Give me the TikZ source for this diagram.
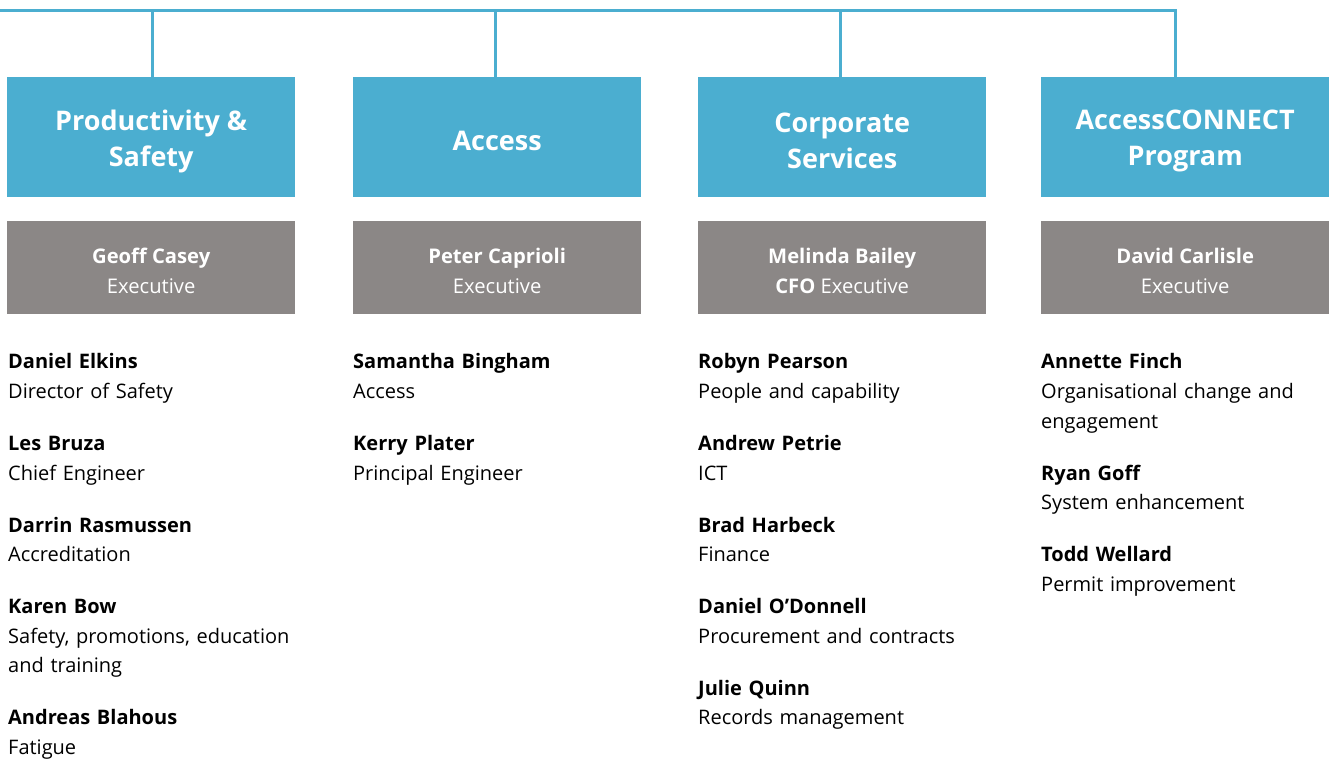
\documentclass[tikz,border=0pt]{standalone}
\usepackage{fontspec}
\setmainfont{Open Sans}
\definecolor{orgblue}{RGB}{75,174,208}
\definecolor{orggray}{RGB}{139,135,134}
\begin{document}
\begin{tikzpicture}[x=1pt,y=-1pt,
  unitbox/.style={fill=orgblue, minimum width=288pt, minimum height=120pt,
    inner sep=0pt, anchor=north west},
  unittext/.style={text=white, inner sep=0pt, align=center,
    font=\fontsize{27}{36}\selectfont\bfseries},
  headbox/.style={fill=orggray, minimum width=288pt, minimum height=93pt,
    inner sep=0pt, anchor=north west},
  headtext/.style={text=white, inner sep=0pt, align=center,
    font=\fontsize{20.2}{30}\selectfont},
  staff/.style={anchor=north west, inner sep=0pt, align=left, text width=310pt,
    font=\fontsize{20}{29.6}\selectfont},
  link/.style={draw=orgblue, line width=3pt}]
\useasboundingbox (0,0) rectangle (1335,761);

% business units
\node[unitbox] (u1) at (7,77)    {};
\node[unitbox] (u2) at (353,77)  {};
\node[unitbox] (u3) at (698,77)  {};
\node[unitbox] (u4) at (1041,77) {};
\node[unittext] (t1) at ([yshift=-4pt]u1.center) {Productivity \&\\Safety};
\node[unittext] (t2) at ([yshift=-4pt]u2.center) {Access};
\node[unittext] (t3) at ([yshift=-4pt]u3.center) {Corporate\\Services};
\node[unittext] (t4) at ([yshift=-4pt]u4.center) {AccessCONNECT\\Program};

% executives
\node[headbox] (h1) at (7,221)    {};
\node[headbox] (h2) at (353,221)  {};
\node[headbox] (h3) at (698,221)  {};
\node[headbox] (h4) at (1041,221) {};
\node[headtext] (e1) at ([yshift=-3pt]h1.center) {\textbf{Geoff Casey}\\Executive};
\node[headtext] (e2) at ([yshift=-3pt]h2.center) {\textbf{Peter Caprioli}\\Executive};
\node[headtext] (e3) at ([yshift=-3pt]h3.center) {\textbf{Melinda Bailey}\\\textbf{CFO} Executive};
\node[headtext] (e4) at ([yshift=-3pt]h4.center) {\textbf{David Carlisle}\\Executive};

% staff lists
\node[staff] (s1) at (8,353.5) {%
  \textbf{Daniel Elkins}\\Director of Safety\\[22.4pt]
  \textbf{Les Bruza}\\Chief Engineer\\[22.4pt]
  \textbf{Darrin Rasmussen}\\Accreditation\\[22.4pt]
  \textbf{Karen Bow}\\Safety, promotions, education\\and training\\[22.4pt]
  \textbf{Andreas Blahous}\\Fatigue};
\node[staff] (s2) at (353,353.5) {%
  \textbf{Samantha Bingham}\\Access\\[22.4pt]
  \textbf{Kerry Plater}\\Principal Engineer};
\node[staff] (s3) at (698,353.5) {%
  \textbf{Robyn Pearson}\\People and capability\\[22.4pt]
  \textbf{Andrew Petrie}\\ICT\\[22.4pt]
  \textbf{Brad Harbeck}\\Finance\\[22.4pt]
  \textbf{Daniel O’Donnell}\\Procurement and contracts\\[22.4pt]
  \textbf{Julie Quinn}\\Records management};
\node[staff] (s4) at (1041,353.5) {%
  \textbf{Annette Finch}\\Organisational change and\\engagement\\[22.4pt]
  \textbf{Ryan Goff}\\System enhancement\\[22.4pt]
  \textbf{Todd Wellard}\\Permit improvement};

% reporting lines
\coordinate (busL) at (0,10);
\coordinate (busR) at (1175.5,10);
\draw[link] (busL) -- (busR) -- (busR |- u4.north);
\foreach \u/\dx in {u1/1, u2/-2, u3/-2}
  \draw[link] ([xshift=\dx pt]\u.north |- busL) -- ([xshift=\dx pt]\u.north);
\end{tikzpicture}
\end{document}
